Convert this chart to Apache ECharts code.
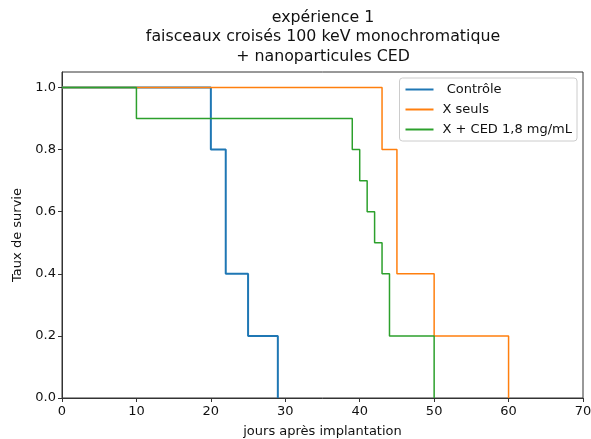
<!DOCTYPE html>
<html>
  <head>
    <meta charset="utf-8" />
    <title>expérience 1</title>
    <script src="https://cdn.jsdelivr.net/npm/echarts@6/dist/echarts.min.js"></script>
    <style>
      * {
        padding: 0;
        margin: 0;
      }
      #chart-panel {
        width: 591px;
        height: 439px;
      }
    </style>
  </head>
  <body>
    <div id="chart-panel"></div>
    <script type="text/javascript">
      var myChart = echarts.init(document.getElementById("chart-panel"));

      // jours des événements et taux de survie correspondants
      const controleJours = [0, 20, 22, 25, 29];
      const controleSurvie = [1, 0.8, 0.4, 0.2, 0];
      const xSeulsJours = [0, 43, 45, 50, 60];
      const xSeulsSurvie = [1, 0.8, 0.4, 0.2, 0];
      const cedJours = [0, 10, 39, 40, 41, 42, 43, 44, 50];
      const cedSurvie = [1, 0.9, 0.8, 0.7, 0.6, 0.5, 0.4, 0.2, 0];

      const seriesNames = [" Contrôle", "X seuls", "X + CED 1,8 mg/mL"];
      const colors = ["#1f77b4", "#ff7f0e", "#2ca02c"];

      function pairs(xs, ys) {
        var res = [];
        for (var i = 0; i < xs.length; i++) {
          res.push([xs[i], ys[i]]);
        }
        return res;
      }

      function stepSeries(name, data, color, width) {
        return {
          name: name,
          type: "line",
          step: "end",
          data: data,
          showSymbol: false,
          symbol: "none",
          color: color,
          lineStyle: { color: color, width: width },
          animation: false,
        };
      }

      var font = "DejaVu Sans";

      var option = {
        title: {
          text: "expérience 1\nfaisceaux croisés 100 keV monochromatique\n+ nanoparticules CED",
          left: 318,
          top: 3,
          textAlign: "center",
          textStyle: {
            fontFamily: font,
            fontSize: 15.8,
            fontWeight: "normal",
            color: "#111",
            lineHeight: 19.5,
            align: "center",
          },
        },
        legend: {
          orient: "vertical",
          right: 14,
          top: 78,
          padding: [5, 5, 5, 6],
          itemGap: 7,
          itemWidth: 28,
          itemHeight: 2,
          icon: "rect",
          backgroundColor: "#fff",
          borderColor: "#ccc",
          borderWidth: 1,
          borderRadius: 3,
          textStyle: {
            fontFamily: font,
            fontSize: 13,
            color: "#111",
            padding: [0, 0, 0, 4],
          },
          data: seriesNames,
        },
        grid: {
          left: 62,
          right: 8,
          top: 72,
          bottom: 41,
          outerBoundsMode: "none",
          containLabel: false,
          show: true,
          borderColor: "#333",
          borderWidth: 1,
        },
        xAxis: {
          type: "value",
          min: 0,
          max: 70,
          interval: 10,
          name: "jours après implantation",
          nameLocation: "middle",
          nameGap: 27,
          nameTextStyle: { fontFamily: font, fontSize: 13, color: "#111" },
          axisLine: { show: true, lineStyle: { color: "#333" } },
          axisTick: { show: true, length: 4, lineStyle: { color: "#333" } },
          axisLabel: { fontFamily: font, fontSize: 13, color: "#111", margin: 7 },
          splitLine: { show: false },
        },
        yAxis: {
          type: "value",
          min: 0,
          max: 1.05,
          interval: 0.2,
          name: "Taux de survie",
          nameLocation: "middle",
          nameGap: 36,
          nameTextStyle: { fontFamily: font, fontSize: 13, color: "#111" },
          axisLine: { show: true, lineStyle: { color: "#333" } },
          axisTick: { show: true, length: 4, lineStyle: { color: "#333" } },
          axisLabel: {
            fontFamily: font,
            fontSize: 13,
            color: "#111",
            margin: 6,
            showMaxLabel: false,
            formatter: function (v) {
              return v.toFixed(1);
            },
          },
          splitLine: { show: false },
        },
        series: [
          stepSeries(seriesNames[0], pairs(controleJours, controleSurvie), colors[0], 2),
          stepSeries(seriesNames[1], pairs(xSeulsJours, xSeulsSurvie), colors[1], 1.5),
          stepSeries(seriesNames[2], pairs(cedJours, cedSurvie), colors[2], 1.5),
        ],
      };

      if (option && typeof option === "object") {
        myChart.setOption(option);
      }
      window.addEventListener("resize", myChart.resize);
    </script>
  </body>
</html>
